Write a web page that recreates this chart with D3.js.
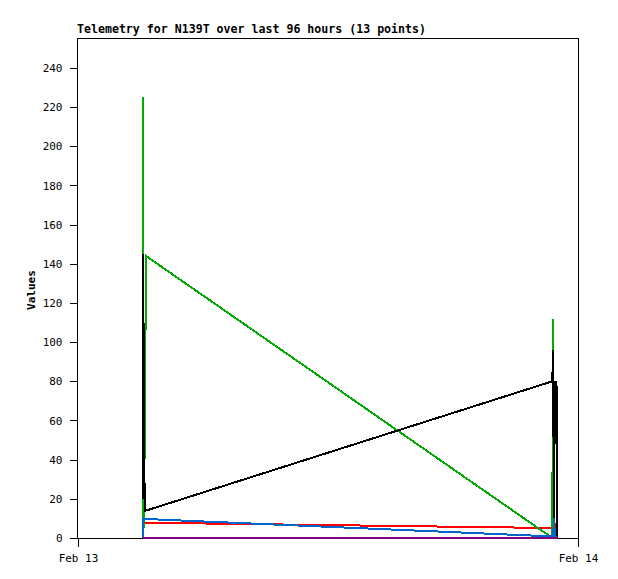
<!DOCTYPE html>
<html>
<head>
<meta charset="utf-8">
<script src="https://cdn.jsdelivr.net/npm/d3@7"></script>
<style>
  body { margin: 0; background: #fff; }
  text { font-family: "DejaVu Sans Mono", "Liberation Mono", monospace; font-size: 11px; fill: #000; }
  .title { font-weight: bold; font-size: 11.6px; }
  .ylab { font-weight: bold; }
</style>
</head>
<body>
<div id="chart"></div>
<script>
// minutes after Feb 13 00:00 for each of the 13 readings
var times = [186, 187, 188, 189, 192, 196, 1366, 1368, 1371, 1373, 1376, 1378, 1381];

var black  = [20, 145, 60, 110, 14, 14, 80, 96, 5, 80, 48, 80, 0];
var red    = [0, 0, 8, 8, 7.8, 7.8, 5.1, 5, 5, 7.5, 5, 7.5, 0];
var blue   = [0, 10, 5, 10, 9.8, 9.7, 0.8, 0, 10, 3, 0, 0, 0];
var green  = [10, 225, 12, 5, 46, 144, 0, 112, 13, 0, 0, 0, 0];
var purple = [0, 0, 0, 0, 0, 0, 0, 0, 0, 0, 0, 0, 0];

var yTicks = [0, 20, 40, 60, 80, 100, 120, 140, 160, 180, 200, 220, 240];
var xTicks = [new Date(2024, 1, 13), new Date(2024, 1, 14)];

// drawing order as in the picture
var series = [
  {name: "red", values: red, color: "#ff0000"},
  {name: "green", values: green, color: "#00aa00"},
  {name: "black", values: black, color: "#000000"},
  {name: "blue", values: blue, color: "#0066cc"},
  {name: "purple", values: purple, color: "#800080"}
];

var W = 618, H = 579,
    pl = 77, pt = 38, pr = 578, pb = 538;

var svg = d3.select("#chart").append("svg").attr("width", W).attr("height", H);

var x = d3.scaleTime().domain(xTicks).range([pl + 1, pr]);
var y = d3.scaleLinear().domain([0, 255.3]).range([pb, pt]);

var t0 = xTicks[0];
function tDate(m) { return new Date(+t0 + m * 60000); }

// frame
svg.append("rect")
  .attr("x", pl + 0.5).attr("y", pt + 0.5)
  .attr("width", pr - pl).attr("height", pb - pt)
  .attr("fill", "none").attr("stroke", "#000").attr("stroke-width", 1)
  .attr("shape-rendering", "crispEdges");

// axes
var yAxis = d3.axisLeft(y).tickValues(yTicks).tickSize(8).tickPadding(7).tickFormat(d3.format("d"));
var gy = svg.append("g").attr("transform", "translate(" + (pl + 0.5) + ",0)").call(yAxis);
gy.select(".domain").remove();

var xAxis = d3.axisBottom(x).tickValues(xTicks).tickSize(8).tickPadding(6).tickFormat(d3.timeFormat("%b %d"));
var gx = svg.append("g").attr("transform", "translate(0," + (pb + 0.5) + ")").call(xAxis);
gx.select(".domain").remove();

svg.selectAll(".tick line").attr("shape-rendering", "crispEdges");
svg.selectAll(".tick text").attr("font-family", null).attr("font-size", null);
gx.selectAll(".tick text").attr("dy", "0.9em");

// lines
var line = d3.line()
  .x(function(d, i) { return x(tDate(times[i])); })
  .y(function(d) { return y(d); });

svg.append("g").selectAll("path")
  .data(series)
  .enter().append("path")
    .attr("d", function(s) { return line(s.values); })
    .attr("fill", "none")
    .attr("stroke", function(s) { return s.color; })
    .attr("stroke-width", 2)
    .attr("shape-rendering", "crispEdges");

// title + y label
svg.append("text").attr("class", "title")
  .attr("x", pl).attr("y", pt - 5)
  .text("Telemetry for N139T over last 96 hours (13 points)");

svg.append("text").attr("class", "ylab")
  .attr("transform", "translate(35,290) rotate(-90)")
  .attr("text-anchor", "middle")
  .text("Values");
</script>
</body>
</html>
